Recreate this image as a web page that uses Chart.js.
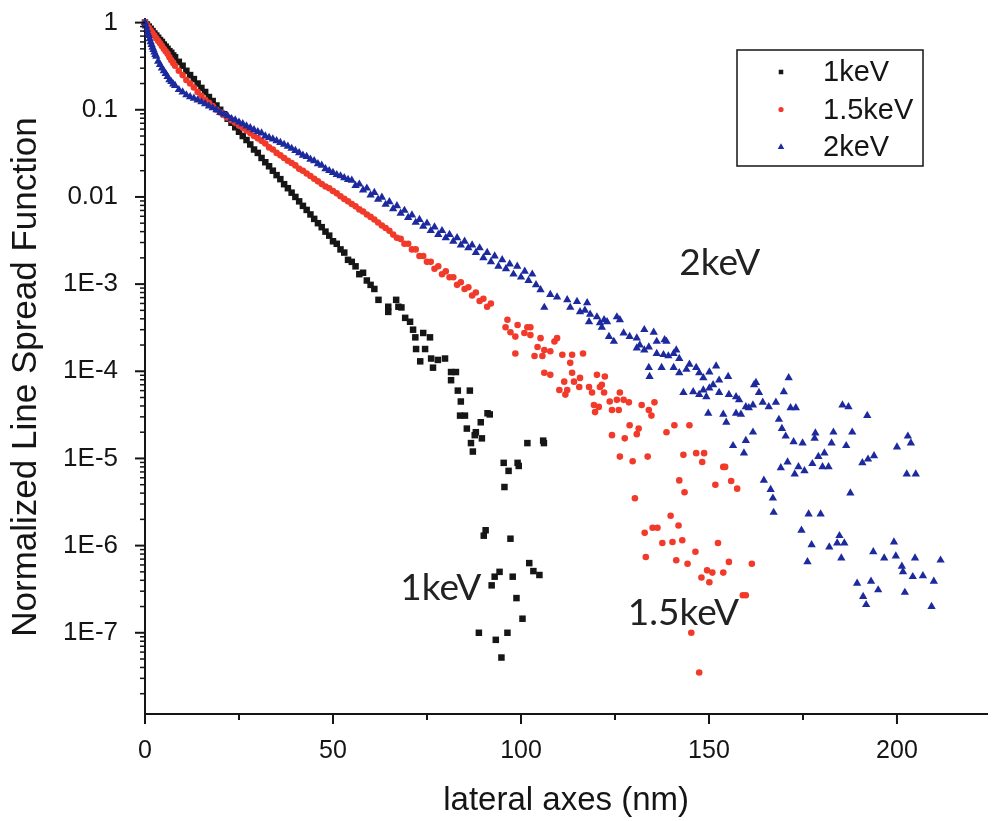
<!DOCTYPE html>
<html>
<head>
<meta charset="utf-8">
<title>Normalized Line Spread Function</title>
<script src="https://cdn.jsdelivr.net/npm/chart.js@4.4.1/dist/chart.umd.min.js"></script>
<style>
  html, body { margin: 0; padding: 0; background: #fff; }
  #wrap { width: 992px; height: 821px; }
</style>
</head>
<body>
<div id="wrap"><canvas id="lsf" width="992" height="821"></canvas></div>
<script>
// values: x in nm, y = normalized line spread function

// 1keV: dense core, then the scattered tail
const kev1X = [
    0, 0.5, 1, 1.5, 2, 2.5, 3, 3.5, 4, 4.5,
    5, 5.5, 6, 6.5, 7, 7.5, 8, 9, 10, 11,
    12, 13, 14, 15, 16, 17, 18, 19, 20, 21,
    22, 23, 24, 25, 26, 27, 28, 29, 30, 31,
    32, 33, 34, 35, 36, 37, 38, 39, 40, 41,
    42, 43, 44, 45, 46, 47, 48, 49, 50, 51,
    52, 53, 54, 55, 56, 57, 58, 59, 60, 61,
    // tail
    62.1, 64.7, 64.7, 66.8, 67.4, 68.2, 69.2, 70.5, 71.3, 74.0,
    75.8, 71.9, 72.1, 74.5, 73.2, 76.1, 77.9, 79.8, 76.6, 81.4,
    82.7, 81.4, 83.2, 86.4, 84.0, 91.1, 91.7, 83.8, 85.1, 89.3,
    85.6, 88.0, 87.7, 89.6, 86.7, 87.2, 101.7, 105.9, 106.1, 95.4,
    96.7, 99.1, 99.4, 95.6, 90.6, 90.1, 97.2, 102.2, 103.3, 104.9,
    94.3, 93.0, 92.2, 97.8, 98.8, 100.4, 88.8, 93.3, 96.4, 94.8
];
const kev1Y = [
    1, 0.95, 0.90, 0.85, 0.80, 0.75, 0.71, 0.67, 0.63, 0.60,
    0.56, 0.53, 0.50, 0.47, 0.45, 0.42, 0.40, 0.355, 0.32, 0.28,
    0.25, 0.225, 0.20, 0.178, 0.16, 0.14, 0.126, 0.112, 0.10, 0.089,
    0.079, 0.071, 0.063, 0.056, 0.050, 0.045, 0.040, 0.035, 0.032, 0.028,
    0.025, 0.0225, 0.020, 0.0178, 0.016, 0.014, 0.0126, 0.0112, 0.010, 0.0089,
    0.0079, 0.0071, 0.0063, 0.0056, 0.0050, 0.0045, 0.0040, 0.0036, 0.0031, 0.0029,
    0.0025, 0.0023, 0.0019, 0.0018, 0.0016, 0.0013, 0.00135, 0.0011, 0.00098, 0.00088,
    // tail
    6.6e-4, 5.5e-4, 4.8e-4, 6.6e-4, 5.5e-4, 5.4e-4, 4.1e-4, 3.7e-4, 3.0e-4, 2.75e-4,
    2.45e-4, 2.45e-4, 1.8e-4, 1.8e-4, 1.3e-4, 1.4e-4, 1.35e-4, 1.4e-4, 1.1e-4, 9.8e-5,
    9.8e-5, 7.9e-5, 6.0e-5, 6.0e-5, 4.5e-5, 3.3e-5, 3.2e-5, 3.1e-5, 3.1e-5, 2.6e-5,
    2.2e-5, 2.0e-5, 1.85e-5, 1.7e-5, 1.5e-5, 1.2e-5, 1.5e-5, 1.6e-5, 1.5e-5, 8.9e-6,
    7.2e-6, 8.9e-6, 8.2e-6, 4.7e-6, 1.5e-6, 1.3e-6, 1.2e-6, 6.3e-7, 5.1e-7, 4.6e-7,
    5.0e-7, 4.4e-7, 3.5e-7, 4.4e-7, 2.5e-7, 1.45e-7, 1.0e-7, 8.3e-8, 1.0e-7, 5.2e-8
];

// 1.5keV
const kev15X = [
    0, 0.5, 1, 1.5, 2, 2.5, 3, 3.5, 4, 4.5,
    5, 5.5, 6, 6.5, 7, 7.5, 8, 9, 10, 11,
    12, 13, 14, 15, 16, 17, 18, 19, 20, 21,
    22, 23, 24, 25, 26, 27, 28, 29, 30, 31,
    32, 33, 34, 35, 36, 37, 38, 39, 40, 41,
    42, 43, 44, 45, 46, 47, 48, 49, 50, 51,
    52, 53, 54, 55, 56, 57, 58, 59, 60, 61,
    62, 63, 64, 65, 66, 67, 68, 69, 70, 71,
    72, 73, 74, 75, 76, 77, 78, 79, 80, 81,
    82, 83, 84, 85, 86, 87, 88, 89, 90, 91,
    92,
    // tail
    95.9, 96.4, 97.2, 99.1, 98.5, 100.9, 101.7, 102.5, 102.5, 98.5,
    104.4, 103.6, 105.2, 105.7, 106.2, 107.8, 108.9, 109.6, 111.0, 113.6,
    113.1, 116.5, 106.2, 107.8, 110.2, 111.5, 111.8, 113.6, 114.1, 115.7,
    115.5, 118.1, 118.9, 120.2, 122.3, 121.5, 122.1, 119.4, 119.7, 123.6,
    124.2, 125.5, 126.0, 126.3, 127.3, 128.7, 132.1, 134.0, 134.7, 135.5,
    124.2, 127.6, 128.9, 131.3, 130.8, 138.7, 140.8, 144.8, 126.3, 129.7,
    133.7, 143.2, 146.6, 148.7, 148.2, 153.8, 154.3, 142.1, 143.5, 151.7,
    155.9, 157.5, 130.3, 139.8, 141.9, 136.3, 135.0, 132.9, 137.6, 140.3,
    142.9, 133.2, 141.3, 144.3, 146.4, 152.4, 155.3, 161.4, 149.5, 150.9,
    153.8, 148.0, 150.1, 159.0, 159.8, 145.3, 147.4, 112.3, 121.0, 120.7
];
const kev15Y = [
    1, 0.93, 0.87, 0.81, 0.76, 0.71, 0.66, 0.62, 0.58, 0.54,
    0.50, 0.47, 0.44, 0.40, 0.37, 0.345, 0.32, 0.28, 0.25, 0.22,
    0.20, 0.18, 0.16, 0.145, 0.13, 0.12, 0.11, 0.10, 0.093, 0.087,
    0.081, 0.076, 0.071, 0.066, 0.062, 0.058, 0.054, 0.050, 0.047, 0.044,
    0.041, 0.037, 0.035, 0.032, 0.030, 0.028, 0.026, 0.0245, 0.023, 0.021,
    0.020, 0.0186, 0.0174, 0.0162, 0.0151, 0.0141, 0.0132, 0.0126, 0.0117, 0.011,
    0.0102, 0.0095, 0.0089, 0.0083, 0.0078, 0.0072, 0.0068, 0.0063, 0.0059, 0.0055,
    0.0051, 0.0047, 0.0044, 0.0041, 0.0037, 0.0034, 0.0033, 0.0029, 0.0029, 0.0025,
    0.0025, 0.0021, 0.0021, 0.0018, 0.0018, 0.0015, 0.0016, 0.0013, 0.0014, 0.0012,
    0.0012, 0.00098, 0.00105, 0.00088, 0.00092, 0.00074, 0.00080, 0.00064, 0.00068, 0.00055,
    0.00060,
    // tail
    3.2e-4, 3.9e-4, 2.8e-4, 3.4e-4, 2.5e-4, 2.75e-4, 3.2e-4, 3.2e-4, 2.6e-4, 1.6e-4,
    1.9e-4, 1.5e-4, 2.4e-4, 1.5e-4, 1.75e-4, 1.7e-4, 2.2e-4, 2.4e-4, 1.55e-4, 1.55e-4,
    1.25e-4, 1.6e-4, 9.6e-5, 9.1e-5, 6.1e-5, 7.6e-5, 5.4e-5, 9.6e-5, 7.6e-5, 8.4e-5,
    6.6e-5, 6.6e-5, 5.7e-5, 9.1e-5, 8.7e-5, 7.0e-5, 5.7e-5, 4.1e-5, 3.4e-5, 4.5e-5,
    3.6e-5, 4.7e-5, 3.6e-5, 5.7e-5, 4.7e-5, 4.4e-5, 4.1e-5, 3.6e-5, 3.1e-5, 4.4e-5,
    1.85e-5, 1.7e-5, 2.4e-5, 2.2e-5, 1.9e-5, 2.0e-5, 2.4e-5, 2.4e-5, 1.05e-5, 9.3e-6,
    1.05e-5, 1.1e-5, 1.15e-5, 1.15e-5, 9.1e-6, 8.0e-6, 8.0e-6, 5.6e-6, 4.1e-6, 5.0e-6,
    5.5e-6, 4.5e-6, 3.5e-6, 2.2e-6, 1.7e-6, 1.6e-6, 1.6e-6, 1.4e-6, 1.07e-6, 1.1e-6,
    1.15e-6, 7.4e-7, 6.8e-7, 6.2e-7, 8.5e-7, 1.07e-6, 6.5e-7, 6.2e-7, 5.2e-7, 4.9e-7,
    4.9e-7, 4.3e-7, 3.8e-7, 2.7e-7, 2.7e-7, 1.0e-7, 3.5e-8, 6.1e-5, 6.6e-5, 3.9e-5
];

// 2keV
const kev2X = [
    0, 0.25, 0.5, 0.75, 1, 1.25, 1.5, 1.75, 2, 2.25,
    2.5, 2.75, 3, 3.5, 4, 4.5, 5, 5.5, 6, 6.5,
    7, 7.5, 8, 9, 10, 11, 12, 13, 14, 15,
    16, 17, 18, 19, 20, 21, 22, 23, 24, 25,
    26, 27, 28, 29, 30, 31, 32, 33, 34, 35,
    36, 37, 38, 39, 40, 41, 42, 43, 44, 45,
    46, 47, 48, 49, 50, 51, 52, 53, 54, 55,
    56, 57, 58, 59, 60, 61, 62, 63, 64, 65,
    66, 67, 68, 69, 70, 71, 72, 73, 74, 75,
    76, 77, 78, 79, 80, 81, 82, 83, 84, 85,
    86, 87, 88, 89, 90, 91, 92, 93, 94, 95,
    96, 97, 98, 99, 100, 101, 102, 103, 104,
    // tail
    105.2, 107.8, 109.6, 112.3, 114.9, 117.6, 106.2, 113.1, 115.7, 118.4,
    120.2, 122.1, 125.5, 126.3, 118.1, 121.0, 122.9, 117.0, 121.5, 123.4,
    124.7, 127.3, 128.9, 130.8, 132.8, 135.3, 138.2, 130.8, 132.8, 134.0,
    136.1, 137.9, 139.2, 140.6, 141.3, 142.1, 131.6, 136.1, 138.7, 134.0,
    134.2, 137.4, 140.6, 142.1, 144.0, 144.8, 146.6, 147.4, 148.5, 150.1,
    151.9, 152.7, 155.1, 151.1, 150.1, 148.5, 143.2, 145.8, 147.4, 149.3,
    152.7, 155.3, 157.2, 158.0, 162.0, 162.5, 163.3, 159.8, 161.7, 164.3,
    165.9, 167.8, 149.8, 153.8, 154.6, 157.2, 158.5, 160.6, 161.7, 159.8,
    156.4, 159.3, 164.6, 166.4, 167.0, 167.2, 171.2, 169.9, 171.7, 173.1,
    168.6, 169.4, 170.4, 172.5, 174.9, 178.3, 178.1, 183.1, 182.6, 185.5,
    187.1, 192.1, 188.1, 186.5, 180.7, 179.1, 177.5, 173.8, 175.4, 172.8,
    170.9, 169.1, 180.2, 181.8, 190.8, 192.3, 193.9, 202.9, 203.7, 200.0,
    202.6, 205.0, 187.6, 176.5, 179.7, 174.6, 177.3, 176.2, 182.0, 184.7,
    184.1, 186.0, 185.2, 193.7, 196.6, 199.2, 199.7, 201.3, 201.6, 204.2,
    206.9, 209.8, 204.8, 211.6, 189.4, 193.1, 195.0, 191.0, 191.8, 202.1, 209.2
];
const kev2Y = [
    1, 0.91, 0.83, 0.76, 0.71, 0.65, 0.60, 0.56, 0.52, 0.49,
    0.46, 0.43, 0.41, 0.36, 0.33, 0.30, 0.28, 0.26, 0.24, 0.22,
    0.21, 0.197, 0.19, 0.17, 0.16, 0.148, 0.141, 0.135, 0.129, 0.123,
    0.117, 0.110, 0.105, 0.100, 0.093, 0.089, 0.085, 0.079, 0.076, 0.072,
    0.069, 0.065, 0.062, 0.059, 0.056, 0.054, 0.050, 0.048, 0.046, 0.044,
    0.042, 0.040, 0.038, 0.036, 0.034, 0.032, 0.030, 0.029, 0.027, 0.026,
    0.024, 0.023, 0.021, 0.020, 0.019, 0.018, 0.0174, 0.0166, 0.0158, 0.0155,
    0.0135, 0.0140, 0.0120, 0.0126, 0.0105, 0.0112, 0.0094, 0.0099, 0.0082, 0.0088,
    0.0073, 0.0079, 0.0065, 0.0070, 0.0058, 0.0062, 0.0051, 0.0055, 0.0046, 0.0050,
    0.0041, 0.0045, 0.0037, 0.0041, 0.0034, 0.0037, 0.0031, 0.0034, 0.0028, 0.0031,
    0.0026, 0.0028, 0.0023, 0.0026, 0.0020, 0.0023, 0.0018, 0.0021, 0.0016, 0.0019,
    0.0015, 0.0017, 0.0013, 0.0016, 0.0012, 0.0014, 0.0011, 0.0013, 0.00098,
    // tail
    8.6e-4, 7.6e-4, 7.1e-4, 6.6e-4, 6.3e-4, 6.1e-4, 5.4e-4, 5.4e-4, 4.8e-4, 4.5e-4,
    4.2e-4, 3.9e-4, 4.2e-4, 3.9e-4, 3.7e-4, 3.6e-4, 3.7e-4, 5.0e-4, 3.2e-4, 2.5e-4,
    2.2e-4, 2.75e-4, 2.5e-4, 2.4e-4, 3.0e-4, 2.8e-4, 2.3e-4, 1.85e-4, 1.75e-4, 1.9e-4,
    1.6e-4, 1.55e-4, 1.5e-4, 1.6e-4, 1.75e-4, 1.4e-4, 2.0e-4, 2.2e-4, 2.2e-4, 1.1e-4,
    8.7e-5, 1.1e-4, 1.1e-4, 9.6e-5, 1.05e-4, 1.2e-4, 1.1e-4, 9.6e-5, 8.4e-5, 9.8e-5,
    1.15e-4, 7.9e-5, 8.7e-5, 7.0e-5, 6.4e-5, 6.1e-5, 5.7e-5, 5.8e-5, 5.4e-5, 5.1e-5,
    5.7e-5, 5.4e-5, 5.1e-5, 4.7e-5, 7.0e-5, 7.4e-5, 5.7e-5, 3.9e-5, 4.1e-5, 4.4e-5,
    3.9e-5, 4.4e-5, 3.3e-5, 3.2e-5, 2.6e-5, 3.3e-5, 3.2e-5, 3.8e-5, 2.0e-5, 1.6e-5,
    1.4e-5, 1.15e-5, 5.6e-6, 4.4e-6, 3.5e-6, 2.4e-6, 8.4e-5, 5.8e-5, 3.8e-5, 3.8e-5,
    2.8e-5, 2.2e-5, 1.8e-5, 1.55e-5, 1.5e-5, 1.95e-5, 1.7e-5, 2.0e-5, 1.5e-5, 4.1e-5,
    3.9e-5, 3.1e-5, 2.0e-5, 1.4e-5, 1.15e-5, 1.05e-5, 8.7e-6, 8.0e-6, 7.2e-6, 6.6e-6,
    9.1e-6, 7.8e-6, 8.0e-6, 8.0e-6, 8.9e-6, 9.8e-6, 1.07e-5, 1.8e-5, 1.5e-5, 1.35e-5,
    6.6e-6, 6.6e-6, 4.0e-6, 2.3e-6, 2.3e-6, 1.5e-6, 1.02e-6, 6.5e-7, 9.6e-7, 1.3e-6,
    1.07e-6, 1.07e-6, 7.2e-7, 8.5e-7, 7.2e-7, 1.1e-6, 7.6e-7, 5.8e-7, 5.0e-7, 4.4e-7,
    4.5e-7, 3.9e-7, 7.2e-7, 6.8e-7, 3.7e-7, 3.9e-7, 3.1e-7, 2.6e-7, 2.1e-7, 2.9e-7, 2.0e-7
];

const seriesLabels = ['1keV', '1.5keV', '2keV'];
const xTickValues = [0, 50, 100, 150, 200];
const xMinorTicks = [25, 75, 125, 175];
const yTickValues = [1, 0.1, 0.01, 1e-3, 1e-4, 1e-5, 1e-6, 1e-7];
const yTickLabels = ['1', '0.1', '0.01', '1E-3', '1E-4', '1E-5', '1E-6', '1E-7'];
const yMinorFactors = [2, 3, 4, 5, 6, 7, 8, 9];
const yTitle = 'Normalized Line Spread Function';

const INK = '#151515';
const SANS = '"Liberation Sans", Arial, Helvetica, sans-serif';
const NOTE_FONT = 'Lato, "Open Sans", sans-serif';

const toPoints = (xs, ys) => xs.map((x, i) => ({ x, y: ys[i] }));

const styles = [
    { color: '#161616', pointStyle: 'rect', radius: 4.6, legendRadius: 3.2 },
    { color: '#f13a2a', pointStyle: 'circle', radius: 3.3, legendRadius: 2.6 },
    { color: '#1d2a9e', pointStyle: 'triangle', radius: 4.8, legendRadius: 3.8 }
];

const datasets = [[kev1X, kev1Y], [kev15X, kev15Y], [kev2X, kev2Y]].map(([xs, ys], i) => ({
    label: seriesLabels[i],
    data: toPoints(xs, ys),
    pointStyle: styles[i].pointStyle,
    pointRadius: styles[i].radius,
    pointBackgroundColor: styles[i].color,
    pointBorderWidth: 0,
    showLine: false,
    clip: false,
    order: 2 - i // blue on top, as in the figure
}));

// in-plot labels next to each tail
const notes = [
    { text: '2keV', x: 142.1, y: 1.27e-3 },
    { text: '1keV', x: 67.9, y: 2.37e-7 },
    { text: '1.5keV', x: 128.4, y: 1.22e-7 }
];

const decorations = {
    id: 'decorations',
    afterDraw(chart) {
        const { ctx, chartArea: area, scales: { x, y } } = chart;
        ctx.save();
        ctx.strokeStyle = INK;
        const line = (x1, y1, x2, y2, w) => {
            ctx.lineWidth = w;
            ctx.beginPath();
            ctx.moveTo(x1, y1);
            ctx.lineTo(x2, y2);
            ctx.stroke();
        };

        // y axis ticks: majors + 2..9 minors in every decade
        const decades = yTickValues.concat(yTickValues[yTickValues.length - 1] / 10);
        decades.forEach(d => {
            if (d >= y.min && d <= y.max) {
                const py = y.getPixelForValue(d);
                line(area.left - 10, py, area.left, py, 2);
            }
            yMinorFactors.forEach(f => {
                const v = d * f;
                if (v < y.min || v > y.max) return;
                const py = y.getPixelForValue(v);
                line(area.left - 5, py, area.left, py, 1.5);
            });
        });

        // x axis ticks
        xTickValues.forEach(v => {
            const px = x.getPixelForValue(v);
            line(px, area.bottom, px, area.bottom + 10, 2);
        });
        xMinorTicks.forEach(v => {
            const px = x.getPixelForValue(v);
            line(px, area.bottom, px, area.bottom + 6, 2);
        });

        // y axis title, sitting a little below the plot's middle like the original
        ctx.save();
        ctx.translate(26, 377);
        ctx.rotate(-Math.PI / 2);
        ctx.fillStyle = INK;
        ctx.font = '35px ' + SANS;
        ctx.textAlign = 'center';
        ctx.textBaseline = 'middle';
        ctx.fillText(yTitle, 0, 0);
        ctx.restore();

        // legend box
        const box = { left: 737, top: 50, width: 186, height: 116 };
        ctx.lineWidth = 1.5;
        ctx.strokeRect(box.left, box.top, box.width, box.height);
        ctx.font = '29px ' + SANS;
        ctx.textAlign = 'left';
        ctx.textBaseline = 'middle';
        seriesLabels.forEach((label, i) => {
            const rowY = box.top + 22 + i * 37.5;
            ctx.fillStyle = styles[i].color;
            Chart.helpers.drawPoint(ctx, { pointStyle: styles[i].pointStyle, radius: styles[i].legendRadius, borderWidth: 0 }, box.left + 44, rowY);
            ctx.fillStyle = INK;
            ctx.fillText(label, box.left + 86, rowY + 1);
        });

        // tail labels
        ctx.fillStyle = '#222';
        ctx.font = '37px ' + NOTE_FONT;
        ctx.textBaseline = 'alphabetic';
        notes.forEach(n => {
            ctx.fillText(n.text, x.getPixelForValue(n.x), y.getPixelForValue(n.y));
        });
        ctx.restore();
    }
};

new Chart(document.getElementById('lsf'), {
    type: 'scatter',
    data: { datasets },
    options: {
        responsive: false,
        animation: false,
        devicePixelRatio: 1,
        layout: { padding: { top: 19, right: 0, bottom: 0, left: 0 } },
        plugins: {
            legend: { display: false },
            tooltip: { enabled: false }
        },
        scales: {
            x: {
                type: 'linear',
                position: 'bottom',
                min: 0,
                max: 224,
                grid: { display: false, drawTicks: false },
                border: { display: true, color: INK, width: 2 },
                afterBuildTicks: s => { s.ticks = xTickValues.map(v => ({ value: v })); },
                afterFit: s => {
                    s.height = 107;
                    s.paddingLeft = 0;
                    s.paddingRight = 0;
                },
                ticks: {
                    autoSkip: false,
                    maxRotation: 0,
                    padding: 22,
                    color: INK,
                    font: { family: SANS, size: 25 }
                },
                title: {
                    display: true,
                    text: 'lateral axes (nm)',
                    color: INK,
                    font: { family: SANS, size: 33 },
                    padding: { top: 0, bottom: 0 }
                }
            },
            y: {
                type: 'logarithmic',
                min: 1.17e-8,
                max: 1.1,
                grid: { display: false, drawTicks: false },
                border: { display: true, color: INK, width: 2 },
                afterBuildTicks: s => { s.ticks = yTickValues.map(v => ({ value: v })); },
                afterFit: s => {
                    s.width = 145;
                    s.paddingTop = 0;
                    s.paddingBottom = 0;
                },
                ticks: {
                    autoSkip: false,
                    padding: 27,
                    color: INK,
                    font: { family: SANS, size: 26 },
                    callback: (v, i) => yTickLabels[i]
                },
                title: { display: false }
            }
        }
    },
    plugins: [decorations]
});
</script>
</body>
</html>
